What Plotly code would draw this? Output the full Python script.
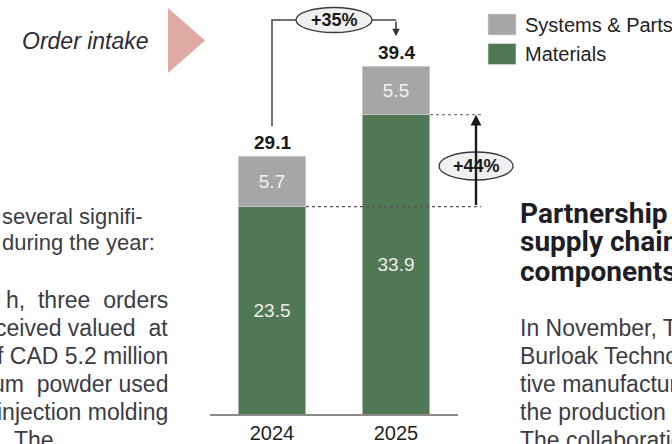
import plotly.graph_objects as go

# ---- data ----
years = ["2024", "2025"]
materials = [23.5, 33.9]
systems_parts = [5.7, 5.5]
totals = [29.1, 39.4]
growth_total = "+35%"
growth_materials = "+44%"

# ---- page geometry ----
W, H = 672, 444
L, R, T, B = 210, 214, 0, 30
PW = W - L - R
PH = H - T - B
YMAX = 46.9

GREEN = "#517855"
GREY = "#a6a6a6"
FONT = "Liberation Sans"
BODY = "#3c3c44"


def xpx(i):  # category index -> pixel
    return L + (i + 0.5) / 2 * PW


def ypx(v):  # value -> pixel
    return T + PH - v / YMAX * PH


def px(x):  # pixel -> paper x
    return (x - L) / PW


def py(y):  # pixel -> paper y
    return (T + PH - y) / PH


def label(x, y, text, size, color, family=FONT, xanchor="center"):
    return dict(x=px(x), y=py(y), xref="paper", yref="paper", text=text,
                showarrow=False, xanchor=xanchor, yanchor="middle",
                font=dict(size=size, color=color, family=family))


fig = go.Figure()
fig.add_bar(
    x=years, y=materials, name="Materials", marker_color=GREEN,
    text=[f"{v:.1f}" for v in materials], textposition="inside",
    insidetextanchor="middle", textangle=0,
    textfont=dict(color="#ececec", size=19, family=FONT),
    marker_line=dict(color="#dcdcdc", width=0.6),
)
fig.add_bar(
    x=years, y=systems_parts, name="Systems & Parts", marker_color=GREY,
    text=[f"{v:.1f}" for v in systems_parts], textposition="inside",
    insidetextanchor="middle", textangle=0,
    textfont=dict(color="#f2f2f2", size=19, family=FONT),
    marker_line=dict(color="#dcdcdc", width=0.6),
)

shapes = []
annotations = []

# totals above bars
for i, (m, s, t) in enumerate(zip(materials, systems_parts, totals)):
    annotations.append(label(xpx(i), ypx(m + s) - 14, f"<b>{t:.1f}</b>", 19, "#1a1a1a"))

# +35% bracket
top0 = ypx(materials[0] + systems_parts[0]) - 30
top1 = ypx(materials[1] + systems_parts[1]) - 30
lvl = 20
x0p, x1p = xpx(0), xpx(1)
shapes.append(dict(
    type="path", xref="paper", yref="paper",
    path=f"M {px(x0p)},{py(top0)} L {px(x0p)},{py(lvl)} L {px(x1p)},{py(lvl)}",
    line=dict(color="#444", width=1.5),
))
annotations.append(dict(
    x=px(x1p), y=py(top1), xref="paper", yref="paper", text="",
    showarrow=True, ax=0, ay=-(top1 - lvl), arrowhead=2, arrowsize=1,
    arrowwidth=1.5, arrowcolor="#333", standoff=0,
))
cx = (x0p + x1p) / 2
shapes.append(dict(
    type="circle", xref="paper", yref="paper",
    x0=px(cx - 38), x1=px(cx + 38), y0=py(lvl + 12.5), y1=py(lvl - 12.5),
    fillcolor="#f0f0f0", line=dict(color="#3a3a3a", width=1.3),
))
annotations.append(label(cx, lvl, f"<b>{growth_total}</b>", 18, "#1a1a1a"))

# +44% arrow between materials levels
ax_x = 476
ym0, ym1 = ypx(materials[0]), ypx(materials[1])
half_bar = 0.274 * PW / 2
shapes.append(dict(type="line", xref="paper", yref="paper",
                   x0=px(x0p + half_bar), x1=px(ax_x + 5),
                   y0=py(ym0), y1=py(ym0),
                   line=dict(color="#555", width=1.2, dash="dot")))
shapes.append(dict(type="line", xref="paper", yref="paper",
                   x0=px(x1p + half_bar), x1=px(ax_x + 5),
                   y0=py(ym1), y1=py(ym1),
                   line=dict(color="#555", width=1.2, dash="dot")))
annotations.append(dict(
    x=px(ax_x), y=py(ym1), xref="paper", yref="paper", text="",
    showarrow=True, ax=0, ay=ym0 - ym1, arrowhead=2, arrowsize=0.9,
    arrowwidth=2.4, arrowcolor="#1a1a1a", standoff=0,
))
ey = 166
shapes.append(dict(
    type="circle", xref="paper", yref="paper",
    x0=px(ax_x - 37), x1=px(ax_x + 37), y0=py(ey + 14), y1=py(ey - 14),
    fillcolor="#f0f0f0", line=dict(color="#3a3a3a", width=1.3),
))
annotations.append(label(ax_x, ey, f"<b>{growth_materials}</b>", 18, "#1a1a1a"))

# custom legend
for (name, col, yc) in [("Systems & Parts", GREY, 24.5), ("Materials", GREEN, 54)]:
    shapes.append(dict(type="rect", xref="paper", yref="paper",
                       x0=px(488), x1=px(516), y0=py(yc + 10.5), y1=py(yc - 10.5),
                       fillcolor=col, line=dict(color="#e0e0e0", width=0.6)))
    annotations.append(label(523, yc, name, 20, "#222", xanchor="left"))

# page context: "Order intake" marker
annotations.append(label(20, 41, "<i>Order intake</i>", 23, "#2c2c36", xanchor="left"))
shapes.append(dict(type="path", xref="paper", yref="paper",
                   path=f"M {px(168)},{py(8)} L {px(205)},{py(40.5)} L {px(168)},{py(73)} Z",
                   fillcolor="#dfaaa3", line=dict(width=0)))

# page context: left column text
NB = "\u00a0"
annotations.append(label(0, 216, "several signifi-", 22, BODY, xanchor="left"))
annotations.append(label(0, 243, "during the year:", 22, BODY, xanchor="left"))
left_lines = [
    (f"h,{NB*2}three{NB*2}orders", 300),
    (f"ceived valued{NB*2}at", 328),
    ("f CAD 5.2 million", 356),
    (f"um{NB*2}powder{NB}used", 384),
    ("injection molding", 412),
]
for txt, yc in left_lines:
    annotations.append(label(170, yc, txt, 23, BODY, xanchor="right"))
annotations.append(label(12, 440, "The", 23, BODY, xanchor="left"))

# page context: right column text
for txt, yc in [("Partnership", 213), ("supply chain", 242), ("components", 271)]:
    annotations.append(label(518, yc, f"<b>{txt}</b>", 28, "#1f1d26", family="Roboto",
                             xanchor="left"))
for txt, yc in [("In November, T", 328), ("Burloak Technologies", 356),
                ("tive manufacturing", 384), ("the production", 412),
                ("The collaboration", 440)]:
    annotations.append(label(518, yc, txt, 23, BODY, xanchor="left"))

fig.update_layout(
    width=W, height=H, margin=dict(l=L, r=R, t=T, b=B, autoexpand=False),
    barmode="stack", bargap=0.452, showlegend=False,
    paper_bgcolor="white", plot_bgcolor="white",
    xaxis=dict(type="category", range=[-0.5, 1.5], showline=True,
               linecolor="#8a8a8a", linewidth=1.5, ticks="", showgrid=False,
               tickfont=dict(size=20, color="#222", family=FONT), fixedrange=True),
    yaxis=dict(range=[0, YMAX], visible=False, fixedrange=True),
    shapes=shapes, annotations=annotations,
    uniformtext=dict(minsize=10, mode="show"),
)

fig.write_html("out.html")
